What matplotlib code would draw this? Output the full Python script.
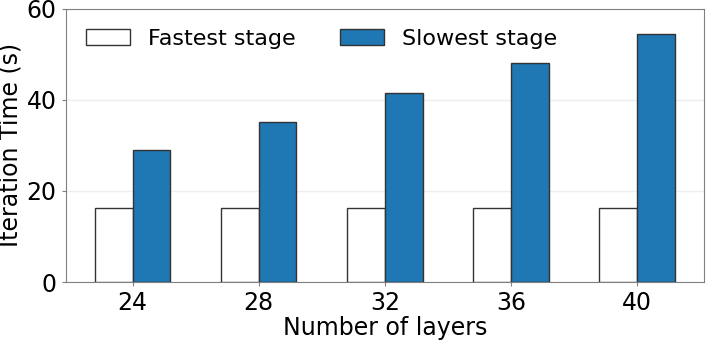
import matplotlib.pyplot as plt
import numpy as np

layers = [24, 28, 32, 36, 40]
fastest = [16.2, 16.2, 16.2, 16.2, 16.2]
slowest = [28.9, 35.2, 41.6, 48.1, 54.5]

plt.rcParams['font.family'] = 'DejaVu Sans'
plt.rcParams['font.size'] = 17

fig = plt.figure(figsize=(7.06, 3.41), dpi=100)
ax = fig.add_axes([0.093, 0.173, 0.904, 0.801])

x = np.arange(len(layers))
w = 0.3
ax.bar(x - w / 2, fastest, w, color='white', edgecolor='#333333', linewidth=1.0,
       label='Fastest stage', zorder=3)
ax.bar(x + w / 2, slowest, w, color='#1f77b4', edgecolor='#333333', linewidth=1.0,
       label='Slowest stage', zorder=3)

ax.set_xticks(x)
ax.set_xticklabels([str(l) for l in layers])
ax.set_ylim(0, 60)
ax.set_yticks([0, 20, 40, 60])
ax.set_xlabel('Number of layers', labelpad=0.5)
ax.set_ylabel('Iteration Time (s)', labelpad=3)
ax.yaxis.grid(True, color='#eeeeee', linewidth=1, zorder=0)

for s in ax.spines.values():
    s.set_color('#808080')
ax.tick_params(axis='both', colors='#808080', labelcolor='black', length=3)

ax.legend(loc='upper left', ncol=2, frameon=False, fontsize=16, handlelength=2.0,
          handletextpad=0.8, columnspacing=2.0, borderaxespad=0.5)

plt.savefig('out.png')
